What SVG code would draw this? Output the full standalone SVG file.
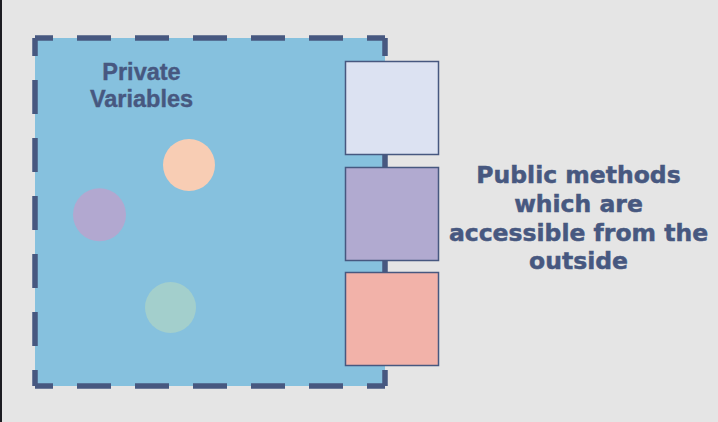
<svg xmlns="http://www.w3.org/2000/svg" width="718" height="422" viewBox="0 0 718 422">
<style>
.edge{stroke:#475880;stroke-width:5.5;fill:none;stroke-dasharray:34 24;stroke-dashoffset:16;stroke-linecap:butt}
.box{stroke:#475880;stroke-width:1.5}
.lbl{font-family:"Liberation Sans",Arial,sans-serif;font-weight:bold;fill:#475880;stroke:#475880;stroke-width:0.4;text-anchor:middle}
.pub{font-family:"DejaVu Sans",Verdana,sans-serif;font-weight:bold;fill:#475880;stroke:#475880;stroke-width:0.5;text-anchor:middle}
</style>
<rect x="0" y="0" width="718" height="422" fill="#e5e5e5"/>
<rect x="0" y="0" width="2" height="422" fill="#1c1c22"/>
<g id="container">
<rect x="35" y="38" width="350" height="348" fill="#86c1de"/>
<path class="edge" d="M35,38 H385"/>
<path class="edge" d="M35,386 H385"/>
<path class="edge" d="M35,38 V386"/>
<path class="edge" d="M385,38 V386"/>
<text class="lbl" x="141.5" y="80" font-size="23.5">Private</text>
<text class="lbl" x="141.5" y="107" font-size="23.5">Variables</text>
</g>
<g id="var1"><circle cx="189" cy="165" r="26" fill="#f8cdb4"/></g>
<g id="var2"><circle cx="99.5" cy="214.7" r="26.5" fill="#b2a8d0"/></g>
<g id="var3"><circle cx="170.5" cy="307.5" r="25.5" fill="#a3cfcc"/></g>
<g id="connectors"></g>
<g id="method1"><rect class="box" x="345.5" y="61.5" width="93" height="93" fill="#dce2f2"/></g>
<g id="method2"><rect class="box" x="345.5" y="167.5" width="93" height="93" fill="#b1aad0"/></g>
<g id="method3"><rect class="box" x="345.5" y="272.5" width="93" height="93" fill="#f2b2a9"/></g>
<g id="public-label">
<text class="pub" x="578.5" y="183" font-size="23.5">Public methods</text>
<text class="pub" x="578.5" y="212" font-size="23.5">which are</text>
<text class="pub" x="578.5" y="241" font-size="23.5">accessible from the</text>
<text class="pub" x="578.5" y="269" font-size="23.5">outside</text>
</g>
</svg>
